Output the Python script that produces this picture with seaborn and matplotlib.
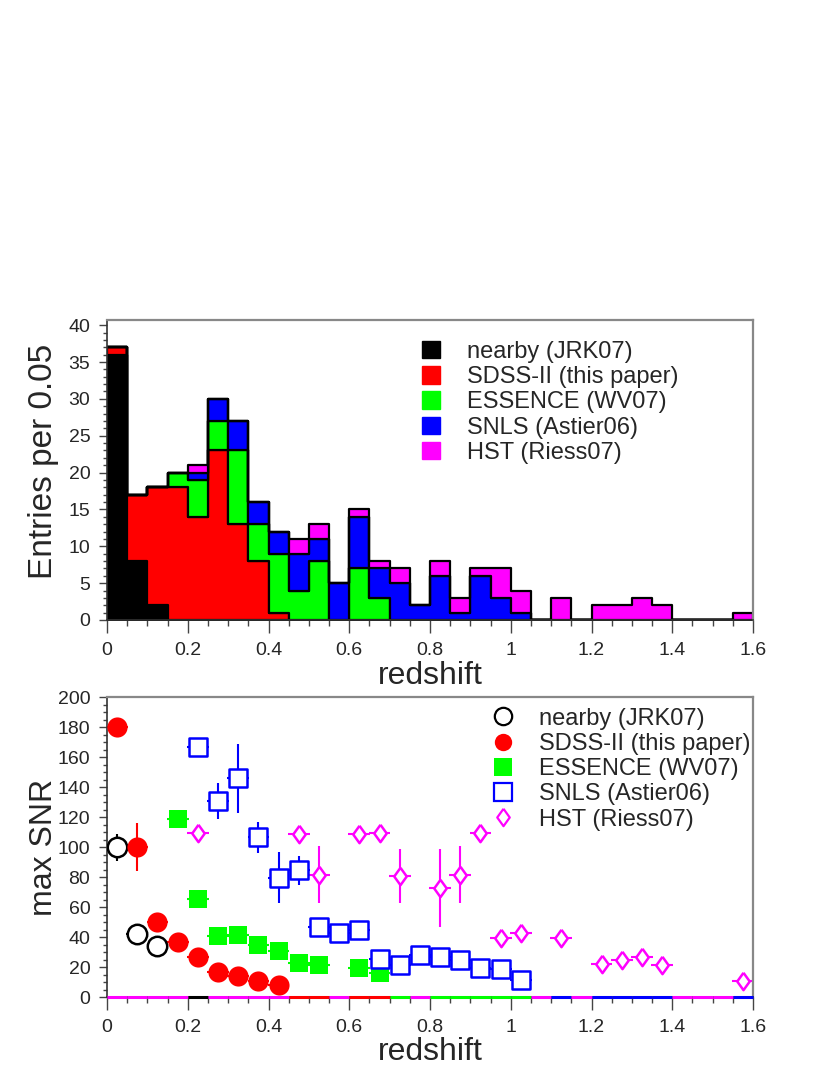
import numpy as np
import pandas as pd
import matplotlib
matplotlib.use("Agg")
import matplotlib.pyplot as plt
from matplotlib.lines import Line2D
from matplotlib.patches import Patch
from matplotlib.ticker import MultipleLocator, FormatStrFormatter
import seaborn as sns

# survey names and ROOT-like colours
surveys = ["nearby (JRK07)", "SDSS-II (this paper)", "ESSENCE (WV07)",
           "SNLS (Astier06)", "HST (Riess07)"]
colors = ["#000000", "#ff0000", "#00ff00", "#0000ff", "#ff00ff"]

# histogram: entries per 0.05 bin, z = 0 .. 1.6
bin_width = 0.05
nearby_counts = [36, 8, 2, 0, 0, 0, 0, 0, 0, 0, 0, 0, 0, 0, 0, 0,
                 0, 0, 0, 0, 0, 0, 0, 0, 0, 0, 0, 0, 0, 0, 0, 0]
sdss_counts = [1, 9, 16, 18, 14, 23, 13, 8, 1, 0, 0, 0, 0, 0, 0, 0,
               0, 0, 0, 0, 0, 0, 0, 0, 0, 0, 0, 0, 0, 0, 0, 0]
essence_counts = [0, 0, 0, 2, 5, 4, 10, 5, 8, 4, 8, 0, 7, 3, 0, 0,
                  0, 0, 0, 0, 0, 0, 0, 0, 0, 0, 0, 0, 0, 0, 0, 0]
snls_counts = [0, 0, 0, 0, 1, 3, 4, 3, 3, 5, 3, 5, 7, 4, 5, 2,
               6, 1, 6, 3, 1, 0, 0, 0, 0, 0, 0, 0, 0, 0, 0, 0]
hst_counts = [0, 0, 0, 0, 1, 0, 0, 0, 0, 2, 2, 0, 1, 1, 2, 0,
              2, 2, 1, 4, 3, 0, 3, 0, 2, 2, 3, 2, 0, 0, 0, 1]

# max SNR vs redshift (value, error)
nearby_z = [0.025, 0.075, 0.125]
nearby_snr = [100, 42, 34]
nearby_err = [9, 2, 2]

sdss_z = [0.025, 0.075, 0.125, 0.175, 0.225, 0.275, 0.325, 0.375, 0.425]
sdss_snr = [180, 100, 50, 37, 27, 17, 14, 10.5, 8]
sdss_err = [2, 16, 2, 1, 1, 1, 1, 1, 1]

essence_z = [0.175, 0.225, 0.275, 0.325, 0.375, 0.425, 0.475, 0.525, 0.625, 0.675]
essence_snr = [119, 65.5, 40.5, 41.5, 34.5, 31, 23, 21.5, 19.5, 16]
essence_err = [2, 2, 2, 4, 2, 2, 2, 2, 2, 2]

snls_z = [0.225, 0.275, 0.325, 0.375, 0.425, 0.475, 0.525, 0.575, 0.625,
          0.675, 0.725, 0.775, 0.825, 0.875, 0.925, 0.975, 1.025]
snls_snr = [167, 131, 146, 106.5, 79.5, 84.5, 47, 42.5, 45,
            25.5, 21.5, 28, 27, 24.5, 19.5, 18.7, 11.2]
snls_err = [2, 12, 23, 10.5, 17, 9.5, 2, 2, 2, 2, 2, 2, 2, 2, 2, 2, 2]

hst_z = [0.225, 0.475, 0.525, 0.625, 0.675, 0.725, 0.825, 0.875, 0.925,
         0.975, 1.025, 1.125, 1.225, 1.275, 1.325, 1.375, 1.575]
hst_snr = [109.5, 108.5, 81.5, 108.5, 109.5, 81, 73, 81.5, 109.5,
           39.5, 42.5, 39.5, 22, 25, 26.5, 21.5, 11]
hst_err = [2, 3, 19, 2, 2, 18, 26, 19, 2, 2, 2, 2, 2, 2, 2, 2, 2]

# colour of the empty-bin line drawn along SNR = 0 (index into surveys)
zero_line = [4, 4, 4, 4, 0, 4, 4, 4, 4, 1, 1, 4, 1, 1, 2, 4,
             2, 2, 2, 2, 2, 4, 3, 4, 3, 3, 3, 3, 4, 4, 4, 3]

sns.set_theme(style="white")
plt.rcParams['font.family'] = ['Liberation Sans', 'DejaVu Sans']

fig = plt.figure(figsize=(8.3, 10.75), dpi=100)
ax1 = fig.add_axes([107 / 830, 1 - 620 / 1075, 646 / 830, 300 / 1075])
ax2 = fig.add_axes([107 / 830, 1 - 997 / 1075, 646 / 830, 300 / 1075])

# ---- top: stacked histogram ----
n_bins = len(nearby_counts)
edges = np.arange(n_bins + 1) * bin_width
centers = edges[:-1] + bin_width / 2
all_counts = [nearby_counts, sdss_counts, essence_counts, snls_counts, hst_counts]
hist_df = pd.concat([
    pd.DataFrame({"z": centers, "n": cnt, "survey": name})
    for name, cnt in zip(surveys, all_counts)
], ignore_index=True)

sns.histplot(data=hist_df, x="z", weights="n", hue="survey",
             hue_order=surveys[::-1], palette=dict(zip(surveys, colors)),
             binwidth=bin_width, binrange=(0, n_bins * bin_width),
             multiple="stack", element="step", fill=True,
             alpha=1, edgecolor="black", linewidth=1.6, legend=False, ax=ax1)

ax1.set_xlim(0, 1.6)
ax1.set_ylim(0, 40.7)
ax1.set_xlabel("redshift", fontsize=23)
ax1.set_ylabel("Entries per 0.05", fontsize=24)
ax1.xaxis.set_label_coords(0.5, -0.135)
ax1.yaxis.set_label_coords(-0.075, 0.53)
ax1.yaxis.set_major_locator(MultipleLocator(5))
ax1.yaxis.set_minor_locator(MultipleLocator(1))

hist_handles = [Patch(facecolor=c, edgecolor=c) for c in colors]
ax1.legend(hist_handles, surveys, loc="upper left", bbox_to_anchor=(0.4876, 0.93),
           frameon=False, fontsize=17, handlelength=0.76, handleheight=0.76,
           handletextpad=1.14, labelspacing=0.135, borderaxespad=0, borderpad=0)

# ---- bottom: max SNR ----
diamond = [(0, 1), (0.72, 0), (0, -1), (-0.72, 0), (0, 1)]
series = [
    (nearby_z, nearby_snr, nearby_err, "o", "white", 14),
    (sdss_z, sdss_snr, sdss_err, "o", None, 14.5),
    (essence_z, essence_snr, essence_err, "s", None, 13),
    (snls_z, snls_snr, snls_err, "s", "white", 12.5),
    (hst_z, hst_snr, hst_err, diamond, "white", 12.5),
]
for (z, snr, err, mk, face, ms), col in zip(series, colors):
    ax2.errorbar(z, snr, yerr=err, xerr=0.027, fmt="none", ecolor=col,
                 elinewidth=1.5, capsize=0, zorder=2)
    pts = pd.DataFrame({"z": z, "snr": snr})
    sns.scatterplot(data=pts, x="z", y="snr", marker=mk, s=ms ** 2,
                    color=col if face is None else face,
                    edgecolor=col, linewidth=1.8 if face else 0,
                    zorder=3, ax=ax2)

# empty-bin line along zero
ax2.hlines([0] * n_bins, edges[:-1], edges[1:],
           colors=[colors[i] for i in zero_line], linewidth=2.2,
           zorder=4, clip_on=False)

ax2.set_xlim(0, 1.6)
ax2.set_ylim(0, 200)
ax2.set_xlabel("redshift", fontsize=23)
ax2.set_ylabel("max SNR", fontsize=23)
ax2.xaxis.set_label_coords(0.5, -0.135)
ax2.yaxis.set_label_coords(-0.075, 0.5)
ax2.yaxis.set_major_locator(MultipleLocator(20))
ax2.yaxis.set_minor_locator(MultipleLocator(5))

snr_handles = []
for (z, snr, err, mk, face, ms), col in zip(series, colors):
    snr_handles.append(Line2D([], [], linestyle="none", marker=mk, markersize=min(ms, 12.5),
                              markerfacecolor=col if face is None else face,
                              markeredgecolor=col, markeredgewidth=1.6 if face else 0))
ax2.legend(snr_handles, surveys, loc="upper left", bbox_to_anchor=(0.598, 0.965),
           frameon=False, fontsize=17, handlelength=0.8, handletextpad=1.12,
           labelspacing=0.14, borderaxespad=0, borderpad=0)

# ROOT-like frame and ticks
for ax in (ax1, ax2):
    ax.xaxis.set_major_locator(MultipleLocator(0.2))
    ax.xaxis.set_minor_locator(MultipleLocator(0.05))
    ax.xaxis.set_major_formatter(FormatStrFormatter("%g"))
    ax.tick_params(axis="x", which="major", direction="out", length=9, width=1,
                   color="#444444", labelsize=14, pad=7)
    ax.tick_params(axis="x", which="minor", direction="out", length=4, width=1,
                   color="#444444")
    ax.tick_params(axis="y", which="major", direction="out", length=6, width=1,
                   color="#444444", labelsize=14, pad=6)
    ax.tick_params(axis="y", which="minor", direction="out", length=3, width=1,
                   color="#444444")
    ax.tick_params(bottom=True, left=True, which="both")
    for side in ("top", "right"):
        ax.spines[side].set_color("#888888")
        ax.spines[side].set_linewidth(1.6)
    for side in ("left", "bottom"):
        ax.spines[side].set_color("#333333")
        ax.spines[side].set_linewidth(1.2)

fig.savefig("out.png", dpi=100)
